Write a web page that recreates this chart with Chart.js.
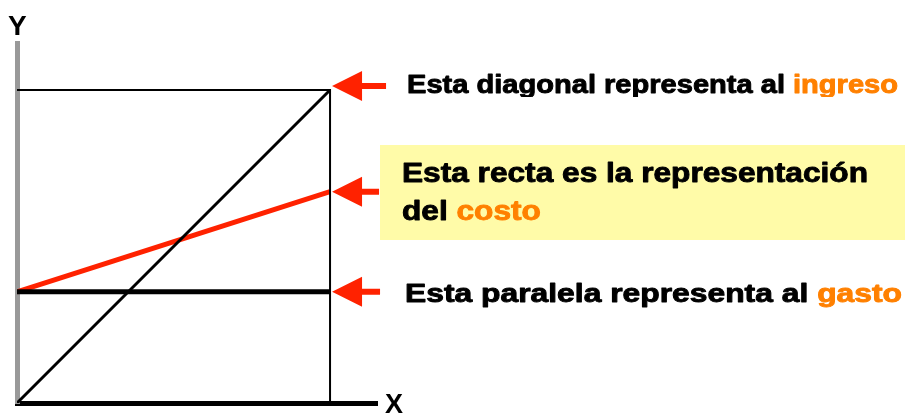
<!DOCTYPE html>
<html>
<head>
<meta charset="utf-8">
<script src="https://cdn.jsdelivr.net/npm/chart.js@4"></script>
<style>
    body { margin: 0; background: #fff; }
    #grafico { display: block; }
</style>
</head>
<body>
<canvas id="grafico" width="906" height="414"></canvas>
<script>
// valores (unidades del eje: la caja va de 0 a 10)
const puntosX = [0, 10];
const ingreso = [0, 10];
const costo = [3.55, 6.75];
const gasto = [3.55, 3.55];
const marcoX = [0, 10, 10];
const marcoY = [10, 10, 0];

const NEGRO = "#000000";
const ROJO = "#ff2200";
const NARANJA = "#ff8000";

function pares(xs, ys) {
    return xs.map((x, i) => ({ x: x, y: ys[i] }));
}

// textos, flechas y nombres de ejes
const anotaciones = {
    id: "anotaciones",
    beforeDatasetsDraw(chart) {
        const ctx = chart.ctx;
        ctx.save();
        ctx.fillStyle = "#fffba8";
        ctx.fillRect(380, 145, 525, 95);
        ctx.restore();
    },
    afterDraw(chart) {
        const ctx = chart.ctx;
        const sx = chart.scales.x;
        const sy = chart.scales.y;
        const xDer = sx.getPixelForValue(puntosX[1]);

        function flecha(yPix, largo) {
            const punta = xDer + 2;
            ctx.fillStyle = ROJO;
            ctx.beginPath();
            ctx.moveTo(punta, yPix);
            ctx.lineTo(punta + 30, yPix - 15);
            ctx.lineTo(punta + 30, yPix - 3);
            ctx.lineTo(punta + largo, yPix - 3);
            ctx.lineTo(punta + largo, yPix + 3);
            ctx.lineTo(punta + 30, yPix + 3);
            ctx.lineTo(punta + 30, yPix + 15);
            ctx.closePath();
            ctx.fill();
        }

        // partes: [texto, color]
        function linea(partes, x, base, size, ancho, escalaFija) {
            ctx.font = "bold " + size + "px 'Liberation Sans', Arial, sans-serif";
            const total = partes.reduce((s, p) => s + ctx.measureText(p[0]).width, 0);
            const esc = escalaFija || (ancho / total);
            ctx.save();
            ctx.translate(x, base);
            ctx.scale(esc, 1);
            ctx.lineWidth = 0.9;
            ctx.lineJoin = "round";
            let cx = 0;
            partes.forEach(p => {
                ctx.fillStyle = p[1];
                ctx.strokeStyle = p[1];
                ctx.fillText(p[0], cx, 0);
                ctx.strokeText(p[0], cx, 0);
                cx += ctx.measureText(p[0]).width;
            });
            ctx.restore();
            return esc;
        }

        ctx.save();
        ctx.textBaseline = "alphabetic";

        flecha(sy.getPixelForValue(ingreso[1]) - 4, 54);
        flecha(sy.getPixelForValue(costo[1]), 47);
        flecha(sy.getPixelForValue(gasto[1]), 48);

        // primera línea recortada por abajo
        ctx.save();
        ctx.beginPath();
        ctx.rect(390, 60, 516, 37);
        ctx.clip();
        linea([["Esta diagonal representa al ", NEGRO], ["ingreso", NARANJA]], 407, 93, 25, 491);
        ctx.restore();

        const esc = linea([["Esta recta es la representación", NEGRO]], 402, 182, 27, 466);
        linea([["del ", NEGRO], ["costo", NARANJA]], 402, 220, 27, 0, esc);

        linea([["Esta paralela representa al ", NEGRO], ["gasto", NARANJA]], 405, 302, 26, 497);

        ctx.fillStyle = NEGRO;
        ctx.font = "bold 28px 'Liberation Sans', Arial, sans-serif";
        ctx.fillText("Y", 8, 35);
        ctx.font = "bold 27px 'Liberation Sans', Arial, sans-serif";
        ctx.fillText("X", 385, 413);
        ctx.restore();
    }
};

const ctx = document.getElementById("grafico").getContext("2d");
const grafico = new Chart(ctx, {
    type: "scatter",
    data: {
        datasets: [
            {
                label: "marco",
                data: pares(marcoX, marcoY),
                showLine: true,
                borderColor: NEGRO,
                borderWidth: 2,
                pointRadius: 0
            },
            {
                label: "ingreso",
                data: pares(puntosX, ingreso),
                showLine: true,
                borderColor: NEGRO,
                borderWidth: 3,
                pointRadius: 0
            },
            {
                label: "gasto",
                data: pares(puntosX, gasto),
                showLine: true,
                borderColor: NEGRO,
                borderWidth: 5,
                pointRadius: 0
            },
            {
                label: "costo",
                data: pares(puntosX, costo),
                showLine: true,
                borderColor: ROJO,
                borderWidth: 5,
                pointRadius: 0
            }
        ]
    },
    options: {
        responsive: false,
        animation: false,
        events: [],
        layout: {
            padding: { left: 9, right: 529, top: 43, bottom: 3 }
        },
        plugins: {
            legend: { display: false },
            tooltip: { enabled: false }
        },
        scales: {
            x: {
                type: "linear",
                min: 0,
                max: 11.5,
                ticks: { display: false },
                grid: { display: false },
                border: { display: true, color: NEGRO, width: 5 }
            },
            y: {
                type: "linear",
                min: 0,
                max: 11.5,
                ticks: { display: false },
                grid: { display: false },
                border: { display: true, color: "#999999", width: 5 }
            }
        }
    },
    plugins: [anotaciones]
});
</script>
</body>
</html>
